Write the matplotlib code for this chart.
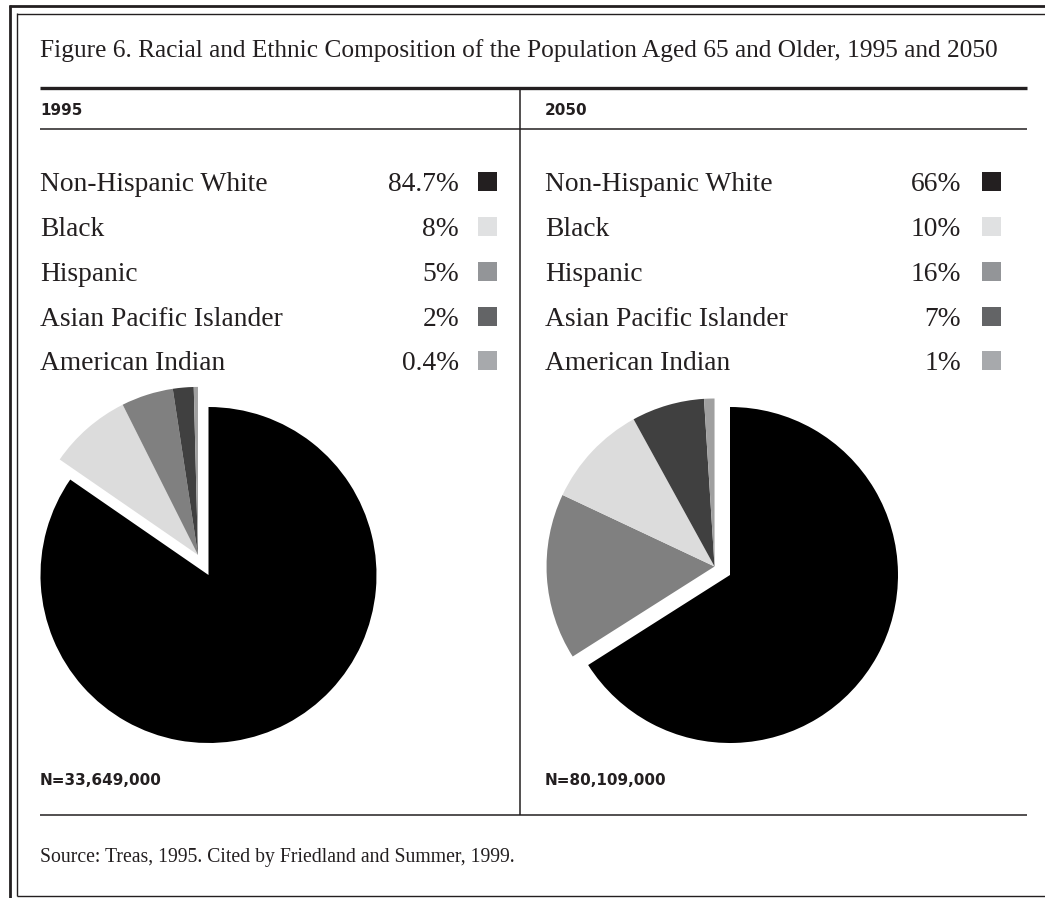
import matplotlib
matplotlib.use("Agg")
import matplotlib.pyplot as plt
import numpy as np

# ---- data ----
categories = ["Non-Hispanic White", "Black", "Hispanic", "Asian Pacific Islander", "American Indian"]
pct_labels_1995 = ["84.7%", "8%", "5%", "2%", "0.4%"]
pct_labels_2050 = ["66%", "10%", "16%", "7%", "1%"]
values_1995 = [84.7, 8, 5, 2, 0.4]
values_2050 = [66, 10, 16, 7, 1]
pie_order_1995 = [0, 1, 2, 3, 4]
pie_order_2050 = [0, 2, 1, 3, 4]
years = ["1995", "2050"]
totals = ["N=33,649,000", "N=80,109,000"]
title = "Figure 6. Racial and Ethnic Composition of the Population Aged 65 and Older, 1995 and 2050"
source = "Source: Treas, 1995. Cited by Friedland and Summer, 1999."

# ---- style ----
pie_colors = ["#000000", "#dcdcdc", "#808080", "#404040", "#a0a0a0"]
legend_colors = ["#231f20", "#e0e1e2", "#939598", "#636466", "#a7a9ac"]
ink = "#231f20"
W, H = 1045, 898
SERIF = ["Liberation Serif", "DejaVu Serif"]
SANS = ["DejaVu Sans"]

fig = plt.figure(figsize=(W / 100, H / 100), dpi=100)
bg = fig.add_axes([0, 0, 1, 1])
bg.set_xlim(0, W)
bg.set_ylim(H, 0)
bg.axis("off")

# frame
bg.plot([9.5, 9.5], [5, H], color=ink, lw=2.0, solid_capstyle="butt")
bg.plot([9, W], [5.5, 5.5], color=ink, lw=2.0, solid_capstyle="butt")
bg.plot([17, 17], [13, 895.5], color=ink, lw=1.0, solid_capstyle="butt")
bg.plot([17, W], [13.5, 13.5], color=ink, lw=1.0, solid_capstyle="butt")
bg.plot([17, W], [895.5, 895.5], color=ink, lw=1.0, solid_capstyle="butt")

# rules
bg.plot([40, 1027], [88, 88], color=ink, lw=2.4, solid_capstyle="butt")
bg.plot([40, 1027], [129, 129], color=ink, lw=1.1, solid_capstyle="butt")
bg.plot([40, 1027], [815, 815], color=ink, lw=1.1, solid_capstyle="butt")
bg.plot([520, 520], [88, 815], color=ink, lw=1.1, solid_capstyle="butt")

# title & source
bg.text(40, 57, title, fontsize=18.3, family=SERIF, color=ink, va="baseline", ha="left")
bg.text(40, 862, source, fontsize=14.2, family=SERIF, color=ink, va="baseline", ha="left")

panels = [
    dict(x0=40, pct_right=459, sq_left=478, cx=208.5, cy=575, vals=values_1995,
         labels=pct_labels_1995, order=pie_order_1995, explode=0.135),
    dict(x0=545, pct_right=961, sq_left=982, cx=730, cy=575, vals=values_2050,
         labels=pct_labels_2050, order=pie_order_2050, explode=0.105),
]
row_base = [191, 236, 281, 325.5, 370]
sq = 19
R = 168

for k, p in enumerate(panels):
    bg.text(p["x0"], 115, years[k], fontsize=11, family=SANS, weight="bold",
            color=ink, va="baseline", ha="left")
    bg.text(p["x0"], 785, totals[k], fontsize=11, family=SANS, weight="bold",
            color=ink, va="baseline", ha="left")
    for i, cat in enumerate(categories):
        yb = row_base[i]
        bg.text(p["x0"], yb, cat, fontsize=19.8, family=SERIF, color=ink,
                va="baseline", ha="left")
        bg.text(p["pct_right"], yb, p["labels"][i], fontsize=19.8, family=SERIF,
                color=ink, va="baseline", ha="right")
        bg.add_patch(plt.Rectangle((p["sq_left"], yb - sq), sq, sq,
                                   facecolor=legend_colors[i], edgecolor="none"))

    # pie axes: square in pixels, centered on the pie centre
    m = 1.3
    ax = fig.add_axes([(p["cx"] - m * R) / W, 1 - (p["cy"] + m * R) / H,
                       2 * m * R / W, 2 * m * R / H])
    vals = [p["vals"][j] for j in p["order"]]
    cols = [pie_colors[j] for j in p["order"]]
    wedges, _ = ax.pie(vals, colors=cols, startangle=90, counterclock=False,
                       radius=1, wedgeprops=dict(linewidth=0))
    # explode the minority group together, along the group's mid-angle
    f = sum(vals[1:]) / sum(vals)
    mid = np.deg2rad(90 + 180 * f)
    dx, dy = p["explode"] * np.cos(mid), p["explode"] * np.sin(mid)
    for w in wedges[1:]:
        w.set_center((dx, dy))
    ax.set_xlim(-m, m)
    ax.set_ylim(-m, m)
    ax.axis("off")

fig.savefig("out.png", dpi=100)
